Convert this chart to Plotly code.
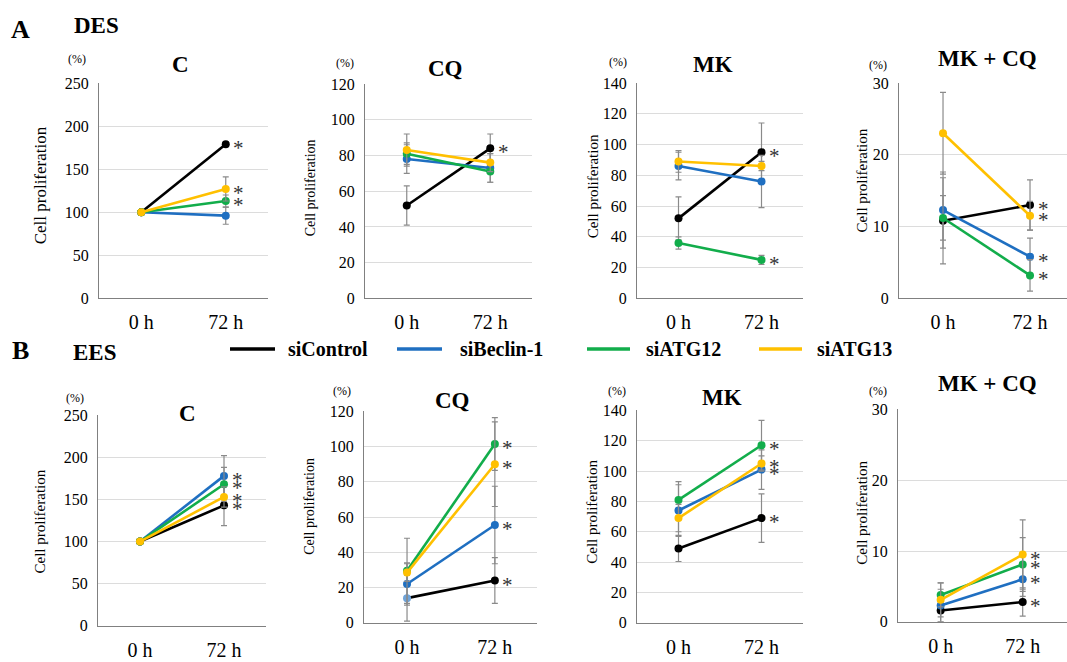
import plotly.graph_objects as go

W, H = 1067, 662

groups = ["siControl", "siBeclin-1", "siATG12", "siATG13"]
colors = ["#000000", "#1f6fc1", "#12ad4b", "#ffc000"]
times = ["0 h", "72 h"]

# DES (row A) means and errors, one row per group: [0 h, 72 h]
des_c_mean = [[100, 179], [100, 96], [100, 113], [100, 127]]
des_c_err = [[0, 2], [0, 10], [0, 7], [0, 14]]
des_c_star = [1, 0, 1, 1]
des_cq_mean = [[52, 84], [78, 73], [81, 71], [83, 76]]
des_cq_err = [[11, 8], [8, 8], [6, 6], [9, 5]]
des_cq_star = [1, 0, 0, 0]
des_mk_mean = [[52, 95], [86, 76], [36, 25], [89, 86]]
des_mk_err = [[14, 19], [9, 17], [4, 3], [7, 3]]
des_mk_star = [1, 0, 1, 0]
des_mkcq_mean = [[10.8, 13.0], [12.3, 5.8], [11.2, 3.2], [23.0, 11.5]]
des_mkcq_err = [[6.0, 3.5], [5.3, 2.6], [3.1, 2.2], [5.7, 2.0]]
des_mkcq_star = [1, 1, 1, 1]

# EES (row B)
ees_c_mean = [[100, 143], [100, 178], [100, 168], [100, 153]]
ees_c_err = [[0, 24], [0, 24], [0, 20], [0, 12]]
ees_c_star = [1, 1, 1, 1]
ees_cq_mean = [[14, 24], [22, 55.5], [29.5, 101.5], [28.5, 90]]
ees_cq_err = [[13, 13], [12, 22], [18.5, 15], [5, 24]]
ees_cq_star = [1, 1, 1, 1]
ees_mk_mean = [[49, 69], [74, 101], [81, 117], [69, 105]]
ees_mk_err = [[8.6, 16], [17, 13], [12, 16.4], [9, 5]]
ees_mk_star = [1, 1, 1, 1]
ees_mkcq_mean = [[1.6, 2.8], [2.3, 6.0], [3.8, 8.1], [3.1, 9.5]]
ees_mkcq_err = [[1.6, 2.0], [2.3, 2.4], [1.7, 3.8], [2.4, 4.9]]
ees_mkcq_star = [1, 1, 1, 1]

titles = ["C", "CQ", "MK", "MK + CQ"]
y_max = [250, 120, 140, 30]
y_dtick = [50, 20, 20, 10]

panels = [
    (des_c_mean, des_c_err, des_c_star), (des_cq_mean, des_cq_err, des_cq_star),
    (des_mk_mean, des_mk_err, des_mk_star), (des_mkcq_mean, des_mkcq_err, des_mkcq_star),
    (ees_c_mean, ees_c_err, ees_c_star), (ees_cq_mean, ees_cq_err, ees_cq_star),
    (ees_mk_mean, ees_mk_err, ees_mk_star), (ees_mkcq_mean, ees_mkcq_err, ees_mkcq_star),
]

# layout in pixels: (x_left, x_right, y_top, y_bottom, xrange)
boxes = [
    (99, 268, 77, 298, [-0.5, 1.5]),
    (365, 532, 78, 298, [-0.5, 1.5]),
    (637, 803, 77, 298, [-0.5, 1.5]),
    (899, 1067, 77, 298, [-0.506, 1.425]),
    (98, 266, 418, 634, [-0.5, 1.5]),
    (364, 537, 414, 631, [-0.49, 1.48]),
    (637, 803, 413, 631, [-0.5, 1.5]),
    (898, 1067, 412, 630, [-0.52, 1.54]),
]
title_pos = [(180, 58), (445, 62), (713, 58), (987, 52),
             (187, 416), (452, 403), (722, 400), (987, 385)]
pct_pos = [(77, 52), (345, 56), (618, 55), (878, 58),
           (75, 400), (342, 393), (617, 393), (878, 393)]
ytitle_pos = [(40, 182), (310, 185), (593, 183), (862, 177),
              (40, 527), (310, 512), (592, 517), (862, 518)]
ytitle_size = [17, 14, 15, 15, 15, 14, 15, 15]

SERIF = "Liberation Serif"


def px(x):
    return x / W


def py(y):
    return 1 - y / H


fig = go.Figure()
annotations = []
shapes = []

for i, (means, errs, stars) in enumerate(panels):
    n = i + 1
    xa = "x" if n == 1 else f"x{n}"
    ya = "y" if n == 1 else f"y{n}"
    col = i % 4
    for g in range(4):
        mcol = colors[g]
        if i == 5 and g == 0:
            mcol = ["#6fa3d8", colors[0]]
        fig.add_trace(go.Scatter(
            x=times, y=means[g], xaxis=xa, yaxis=ya,
            mode="lines+markers", name=groups[g], showlegend=False,
            line=dict(color=colors[g], width=2.6),
            marker=dict(color=mcol, size=8),
            error_y=dict(type="data", array=errs[g], visible=True,
                         color="#8a8a8a", thickness=1.2, width=3),
        ))
        if stars[g]:
            annotations.append(dict(
                x=1, y=means[g][1], xref=xa, yref=ya, text="*",
                showarrow=False, xshift=13, yshift=-4,
                font=dict(family=SERIF, size=21, color="#333333"),
            ))
    x0, x1, y0, y1, xr = boxes[i]
    fig.update_layout(**{
        ("xaxis" if n == 1 else f"xaxis{n}"): dict(
            domain=[px(x0), px(x1)], anchor=ya, type="category",
            categoryorder="array", categoryarray=times, range=xr,
            showgrid=False, showline=True, linecolor="#808080", linewidth=1.3,
            ticks="", ticklabelstandoff=6,
            tickfont=dict(family=SERIF, size=20, color="#000000"),
            fixedrange=True,
        ),
        ("yaxis" if n == 1 else f"yaxis{n}"): dict(
            domain=[py(y1), py(y0)], anchor=xa, range=[0, y_max[col]],
            dtick=y_dtick[col], showgrid=True, gridcolor="#dcdcdc", gridwidth=1,
            showline=True, linecolor="#808080", linewidth=1.3, zeroline=False,
            ticks="", ticklabelstandoff=6,
            tickfont=dict(family=SERIF, size=16, color="#000000"),
            fixedrange=True,
        ),
    })
    tx, ty = title_pos[i]
    annotations.append(dict(x=px(tx), y=py(ty), xref="paper", yref="paper",
                            text=f"<b>{titles[col]}</b>", showarrow=False,
                            xanchor="center", yanchor="middle",
                            font=dict(family=SERIF, size=23, color="#000000")))
    qx, qy = pct_pos[i]
    annotations.append(dict(x=px(qx), y=py(qy), xref="paper", yref="paper",
                            text="(%)", showarrow=False,
                            xanchor="center", yanchor="middle",
                            font=dict(family=SERIF, size=12, color="#000000")))
    lx, ly = ytitle_pos[i]
    annotations.append(dict(x=px(lx), y=py(ly), xref="paper", yref="paper",
                            text="Cell proliferation", showarrow=False,
                            textangle=-90, xanchor="center", yanchor="middle",
                            font=dict(family=SERIF, size=ytitle_size[i], color="#000000")))

# Panel letters and row labels
for txt, x, y, s in [("A", 20, 22, 26), ("DES", 96, 18, 23),
                     ("B", 20, 352, 26), ("EES", 94, 354, 23)]:
    annotations.append(dict(x=px(x), y=py(y), xref="paper", yref="paper",
                            text=f"<b>{txt}</b>", showarrow=False,
                            xanchor="center", yanchor="middle",
                            font=dict(family=SERIF, size=s, color="#000000")))

# Legend (lines + labels)
leg_line_x = [(230, 275), (397, 442), (587, 630), (759, 802)]
leg_text_x = [286, 458, 644, 815]
leg_y = 350
for g in range(4):
    a, b = leg_line_x[g]
    shapes.append(dict(type="line", xref="paper", yref="paper",
                       x0=px(a), x1=px(b), y0=py(leg_y), y1=py(leg_y),
                       line=dict(color=colors[g], width=3.5)))
    annotations.append(dict(x=px(leg_text_x[g]), y=py(leg_y), xref="paper", yref="paper",
                            text=f"<b>{groups[g]}</b>", showarrow=False,
                            xanchor="left", yanchor="middle",
                            font=dict(family=SERIF, size=20, color="#000000")))

fig.update_layout(
    width=W, height=H, margin=dict(l=0, r=0, t=0, b=0),
    paper_bgcolor="white", plot_bgcolor="white",
    annotations=annotations, shapes=shapes, showlegend=False,
    font=dict(family=SERIF, color="#000000"),
)

fig.write_html("out.html", config={"displayModeBar": False},
               post_script="document.body.style.margin='0';")
